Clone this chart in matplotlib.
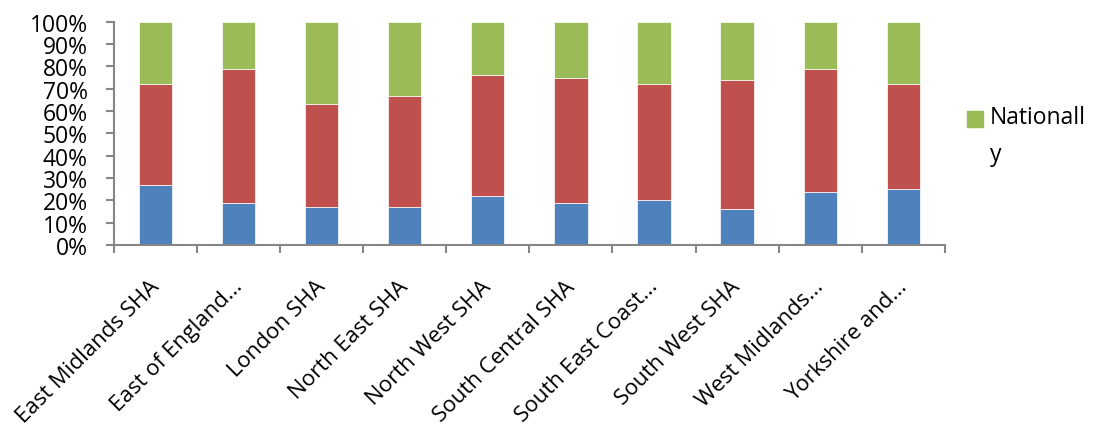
import matplotlib.pyplot as plt
import matplotlib.transforms as mtransforms
import numpy as np
from matplotlib.patches import Patch
from matplotlib.ticker import FuncFormatter, MultipleLocator

plt.rcParams['font.family'] = ['Open Sans', 'DejaVu Sans']

regions = ["East Midlands SHA", "East of England...", "London SHA", "North East SHA",
           "North West SHA", "South Central SHA", "South East Coast...", "South West SHA",
           "West Midlands...", "Yorkshire and..."]
# shares in percent (blue / red / green)
blue = [27, 19, 17, 17, 22, 19, 20, 16, 24, 25]
red_top = [72, 79, 63, 67, 76, 75, 72, 74, 79, 72]
red = [r - b for r, b in zip(red_top, blue)]
green = [100 - r for r in red_top]

c_blue, c_red, c_green = "#4F81BD", "#C0504D", "#9BBB59"
axis_grey = "#868686"

fig = plt.figure(figsize=(10.96, 4.31), dpi=100)
ax = fig.add_axes([0.104, 0.429, 0.758, 0.518])

x = np.arange(len(regions))
w = 0.4
ax.bar(x, blue, w, color=c_blue, edgecolor="white", linewidth=0.5)
ax.bar(x, red, w, bottom=blue, color=c_red, edgecolor="white", linewidth=0.5)
ax.bar(x, green, w, bottom=red_top, color=c_green, edgecolor="white", linewidth=0.5)

ax.set_xlim(-0.5, len(regions) - 0.5)
ax.set_ylim(0, 100)
ax.yaxis.set_major_locator(MultipleLocator(10))
ax.yaxis.set_major_formatter(FuncFormatter(lambda v, p: f"{v:.0f}%"))

for s in ["top", "right"]:
    ax.spines[s].set_visible(False)
for s in ["left", "bottom"]:
    ax.spines[s].set_color(axis_grey)
    ax.spines[s].set_linewidth(1.5)

# category ticks at bar boundaries, labels at bar centres
ax.set_xticks(np.arange(len(regions) + 1) - 0.5)
ax.set_xticklabels([])
ax.set_xticks(x, minor=True)
ax.set_xticklabels(regions, minor=True, rotation=45, ha="right", va="top",
                   rotation_mode="anchor", fontsize=16)
ax.tick_params(axis="x", which="minor", length=0, pad=22)
ax.tick_params(axis="x", which="major", length=6, width=1.5, color=axis_grey)
ax.tick_params(axis="y", length=6, width=1.5, color=axis_grey, labelsize=16.5, pad=13)

shift = mtransforms.ScaledTranslation(-0.07, 0, fig.dpi_scale_trans)
for lab in ax.get_xticklabels(minor=True):
    lab.set_transform(lab.get_transform() + shift)

leg = fig.legend(handles=[Patch(color=c_green, label="Nationall\ny")],
                 loc="upper left", bbox_to_anchor=(0.8635, 0.802), frameon=False,
                 fontsize=16.5, handlelength=0.7, handleheight=0.7,
                 handletextpad=0.3)
for t in leg.get_texts():
    t.set_linespacing(1.7)
# Excel puts the swatch beside the first line of a wrapped entry
for h in leg.legend_handles:
    h.set_y(h.get_y() + 12.5)

fig.savefig("out.png", dpi=100)
